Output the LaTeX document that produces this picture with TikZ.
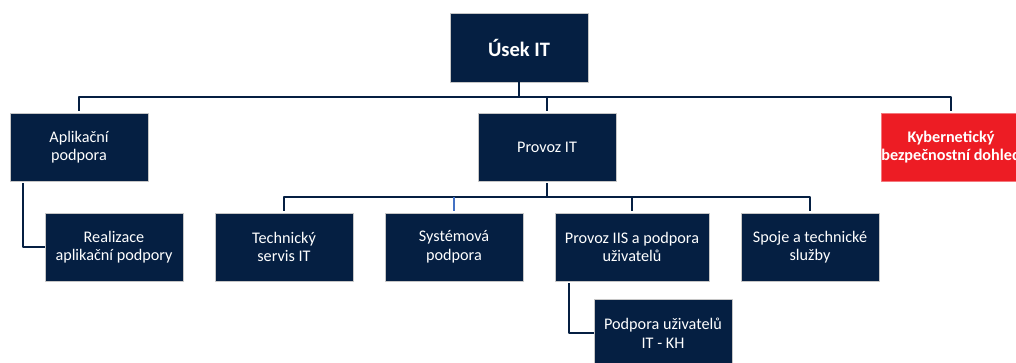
\documentclass[tikz,border=0pt]{standalone}
\usepackage{fontspec}
\setmainfont{Carlito}
\definecolor{navy}{RGB}{5,31,66}
\definecolor{kyberred}{RGB}{237,28,36}
\definecolor{lineblue}{RGB}{68,114,196}
\begin{document}
\begin{tikzpicture}[x=1pt,y=1pt,line join=round,
		unit/.style={draw=gray!45,line width=.6pt,fill=navy,text=white,align=center,
			minimum width=138pt,minimum height=68pt,inner sep=0pt,
			font=\fontsize{16.2}{18.6}\selectfont},
		conn/.style={draw=navy,line width=2pt,shorten <=2pt}]
	\useasboundingbox (0,0) rectangle (1016,362);
	\clip (0,0) rectangle (1016,362);
	\def\rowA{215} % y of second level
	\def\rowB{115} % y of third level
	\node[unit,minimum height=69pt,font=\fontsize{20.5}{24}\bfseries] (usek) at (519,314.5) {Úsek IT};
	\node[unit] (aplik) at (79,\rowA) {Aplikační\\podpora};
	\node[unit] (provoz) at (547,\rowA) {Provoz IT};
	\node[unit,fill=kyberred,draw=kyberred!60,font=\fontsize{16.2}{18.6}\bfseries] (kyber) at (951,\rowA) {Kybernetický\\bezpečnostní dohled};
	\node[unit] (realiz) at (114,\rowB) {Realizace\\aplikační podpory};
	\node[unit] (techn) at (284,\rowB) {Technický\\servis IT};
	\node[unit] (system) at (454,\rowB) {Systémová\\podpora};
	\node[unit,minimum width=154pt] (iis) at (632,\rowB) {Provoz IIS a podpora\\uživatelů};
	\node[unit] (spoje) at (810,\rowB) {Spoje a technické\\služby};
	\node[unit] (podp) at (663,29) {Podpora uživatelů\\IT - KH};
	\coordinate (bus1) at (519,265);
	\coordinate (bus2) at (547,165);
	\draw[conn,shorten <=0pt] (usek.south) -- (bus1);
	\foreach \n in {aplik,provoz,kyber}
		\draw[conn] (\n.north) |- (bus1);
	\draw[conn] (provoz.south) -- (bus2);
	\foreach \n in {techn,iis,spoje}
		\draw[conn] (\n.north) |- (bus2);
	\draw[conn,draw=lineblue] (system.north) -- (system.north|-bus2);
	\draw[conn] ([xshift=13pt]aplik.south west) |- (realiz.west);
	\draw[conn] ([xshift=14pt]iis.south west) |- (podp.west);
\end{tikzpicture}
\end{document}
